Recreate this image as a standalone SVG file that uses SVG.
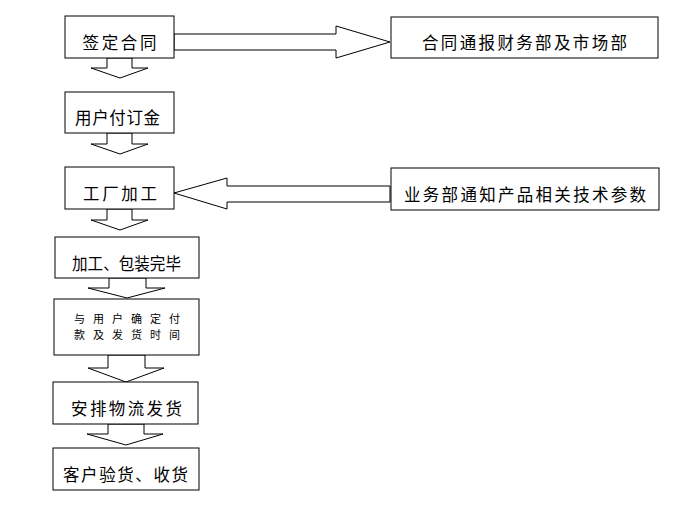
<svg xmlns="http://www.w3.org/2000/svg" width="691" height="514" viewBox="0 0 691 514">
<style>
.box{fill:#fff;stroke:#000;stroke-width:1}
.arr{fill:#fff;stroke:#000;stroke-width:1;stroke-linejoin:miter}
.t{font-family:"Noto Sans CJK SC","Liberation Sans",sans-serif;font-size:16.5px;fill:#000;text-anchor:middle;dominant-baseline:central}
.s{font-size:11px}
</style>
<rect width="691" height="514" fill="#fff"/>
<g id="connectors">
<polygon class="arr" points="174,34 336,34 336,26 390,42 336,58 336,50 174,50"/>
<polygon class="arr" points="390,186 227,186 227,178 174,193 227,209 227,202 390,202"/>
<polygon class="arr" points="107,58 107,68 91,68 120,78 148,68 132,68 132,58"/>
<polygon class="arr" points="107,133 107,144 91,144 120,154 148,144 132,144 132,133"/>
<polygon class="arr" points="107,209 107,220 91,220 120,230 148,220 132,220 132,209"/>
<polygon class="arr" points="109,278 109,288 88,288 127,298 165,288 146,288 146,278"/>
<polygon class="arr" points="108,355 108,368 88,368 126,382 164,368 145,368 145,355"/>
<polygon class="arr" points="108,424 108,434 87,434 126,445 163,434 144,434 144,424"/>
</g>
<g id="n1"><rect class="box" x="65" y="16" width="109" height="42"/><text class="t" x="119.5" y="42" textLength="74">签定合同</text></g>
<g id="n2"><rect class="box" x="65" y="92" width="109" height="41"/><text class="t" x="117.5" y="117" textLength="85">用户付订金</text></g>
<g id="n3"><rect class="box" x="65" y="167" width="109" height="42"/><text class="t" x="120" y="193" textLength="74">工厂加工</text></g>
<g id="n4"><rect class="box" x="55" y="237" width="144" height="41"/><text class="t" x="126.5" y="263" textLength="109" lengthAdjust="spacingAndGlyphs">加工、包装完毕</text></g>
<g id="n5"><rect class="box" x="54" y="299" width="145" height="56"/><text class="t s" x="127" y="317.5" textLength="106">与用户确定付</text><text class="t s" x="127" y="334" textLength="106">款及发货时间</text></g>
<g id="n6"><rect class="box" x="53" y="382" width="145" height="42"/><text class="t" x="126.5" y="408" textLength="111">安排物流发货</text></g>
<g id="n7"><rect class="box" x="53" y="448" width="146" height="42"/><text class="t" x="125.5" y="474" textLength="125">客户验货、收货</text></g>
<g id="nA"><rect class="box" x="391" y="17" width="267" height="41"/><text class="t" x="524.5" y="42" textLength="205">合同通报财务部及市场部</text></g>
<g id="nB"><rect class="box" x="391" y="168" width="268" height="42"/><text class="t" x="525" y="194" textLength="242">业务部通知产品相关技术参数</text></g>
</svg>
